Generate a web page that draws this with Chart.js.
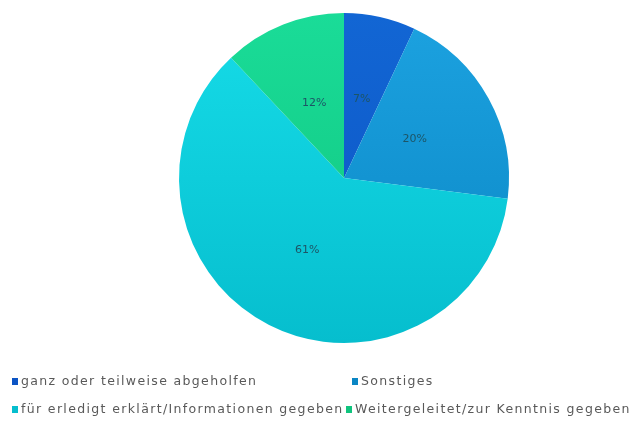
<!DOCTYPE html>
<html>
<head>
<meta charset="utf-8">
<script src="https://cdn.jsdelivr.net/npm/chart.js@4"></script>
<style>
  html, body { margin: 0; padding: 0; background: #fff; }
  #wrap { position: relative; width: 642px; height: 425px; }
  #c { position: absolute; left: 0; top: 0; }
  #legend { position: absolute; left: 0; top: 370px; width: 642px; height: 50px;
    font-family: "DejaVu Sans", sans-serif; font-size: 12.5px; color: #595959; letter-spacing: 1.35px; }
  .item { position: absolute; white-space: nowrap; line-height: 14px; }
  .box { display: inline-block; width: 6px; height: 7px; margin-right: 3px; vertical-align: 0px; }
</style>
</head>
<body>
<div id="wrap">
  <canvas id="c" width="642" height="425"></canvas>
  <div id="legend"></div>
</div>
<script>
const categories = [
  "ganz oder teilweise abgeholfen",
  "Sonstiges",
  "für erledigt erklärt/Informationen gegeben",
  "Weitergeleitet/zur Kenntnis gegeben"
];
const values = [7, 20, 61, 12];
const valueLabels = ["7%", "20%", "61%", "12%"];
const colorsTop = ["#1266d4", "#1ca2e0", "#16dce8", "#1adc98"];
const colorsBottom = ["#0c54c4", "#0a86c4", "#06bece", "#10c47e"];
const legendPos = [[12, 4], [352, 4], [12, 32], [346, 32]];

function grad(ctx) {
  const chart = ctx.chart;
  const area = chart.chartArea;
  if (!area) return colorsTop[ctx.dataIndex];
  const g = chart.ctx.createLinearGradient(0, area.top, 0, area.bottom);
  g.addColorStop(0, colorsTop[ctx.dataIndex]);
  g.addColorStop(1, colorsBottom[ctx.dataIndex]);
  return g;
}

const labelPlugin = {
  id: 'sliceLabels',
  afterDatasetsDraw(chart) {
    const ctx = chart.ctx;
    const meta = chart.getDatasetMeta(0);
    ctx.save();
    ctx.font = '11px "DejaVu Sans", sans-serif';
    ctx.fillStyle = '#1d5566';
    ctx.textAlign = 'center';
    ctx.textBaseline = 'middle';
    meta.data.forEach((arc, i) => {
      const p = arc.getProps(['startAngle', 'endAngle', 'outerRadius', 'x', 'y'], true);
      const mid = (p.startAngle + p.endAngle) / 2;
      const r = p.outerRadius * 0.49;
      ctx.fillText(valueLabels[i], p.x + Math.cos(mid) * r, p.y + Math.sin(mid) * r);
    });
    ctx.restore();
  }
};

new Chart(document.getElementById('c'), {
  type: 'pie',
  data: {
    labels: categories,
    datasets: [{ data: values, backgroundColor: grad, borderWidth: 0 }]
  },
  options: {
    responsive: false,
    animation: false,
    layout: { padding: { left: 46, right: 0, top: 13, bottom: 82 } },
    plugins: { legend: { display: false }, tooltip: { enabled: false } }
  },
  plugins: [labelPlugin]
});

const lg = document.getElementById('legend');
categories.forEach((name, i) => {
  const d = document.createElement('div');
  d.className = 'item';
  d.style.left = legendPos[i][0] + 'px';
  d.style.top = legendPos[i][1] + 'px';
  const b = document.createElement('span');
  b.className = 'box';
  b.style.background = colorsBottom[i];
  d.appendChild(b);
  d.appendChild(document.createTextNode(name));
  lg.appendChild(d);
});
</script>
</body>
</html>
